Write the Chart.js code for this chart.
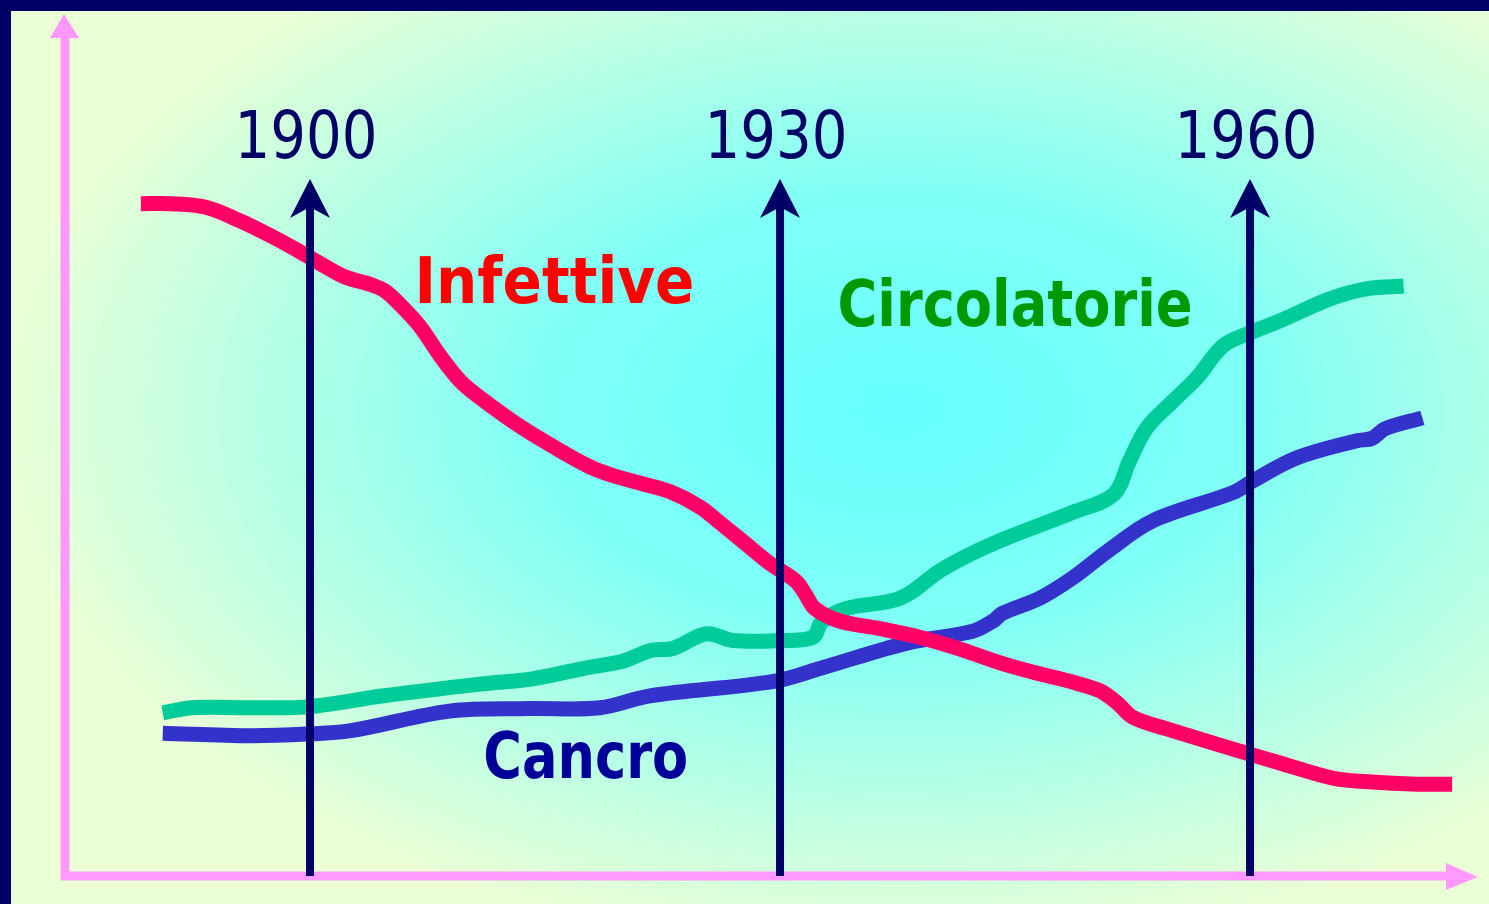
<!DOCTYPE html>
<html>
<head>
<meta charset="utf-8">
<script src="https://cdn.jsdelivr.net/npm/chart.js@4.4.0/dist/chart.umd.min.js"></script>
<style>
    html, body { margin: 0; padding: 0; overflow: hidden; background: #000066; }
    #wrap { position: relative; width: 1489px; height: 904px; }
</style>
</head>
<body>
<div id="wrap"><canvas id="chart"></canvas></div>
<script>
// Mortality trends (arbitrary units) by year
const infettiveYears = [1889.2, 1891.1, 1893.3, 1895.5, 1897.5, 1899.4, 1900.6, 1902.2, 1904.0, 1904.8, 1905.7, 1907.0, 1908.3, 1909.6, 1910.9, 1913.4, 1916.0, 1917.9, 1919.2, 1921.1, 1923.0, 1924.9, 1926.2, 1927.8, 1929.4, 1931.0, 1931.6, 1932.2, 1933.8, 1936.4, 1938.9, 1941.5, 1944.0, 1946.3, 1948.5, 1950.4, 1951.5, 1952.5, 1954.7, 1958.6, 1961.9, 1965.3, 1967.5, 1970.7, 1972.9];
const infettiveValues = [79.1, 79.1, 78.7, 77.1, 75.3, 73.4, 72.1, 70.5, 69.5, 68.8, 67.3, 64.7, 61.2, 58.2, 56.2, 52.9, 50.0, 48.1, 47.2, 46.2, 45.2, 43.4, 41.5, 39.1, 36.7, 34.7, 33.2, 31.5, 30.0, 29.1, 28.1, 26.7, 25.1, 23.9, 22.9, 21.8, 20.4, 18.7, 17.3, 15.1, 13.3, 11.5, 11.1, 10.8, 10.8];

const circolatorieYears = [1890.6, 1892.5, 1896.2, 1899.8, 1904.7, 1911.0, 1914.2, 1917.4, 1920.0, 1921.7, 1923.2, 1925.3, 1927.0, 1930.0, 1932.1, 1932.7, 1934.3, 1937.7, 1940.2, 1942.3, 1944.5, 1948.7, 1951.3, 1952.3, 1953.4, 1955.1, 1956.6, 1958.3, 1960.0, 1961.9, 1965.1, 1967.5, 1969.8];
const circolatorieValues = [19.2, 19.8, 19.8, 19.9, 21.2, 22.6, 23.2, 24.4, 25.3, 26.5, 26.8, 28.5, 27.7, 27.7, 28.1, 30.0, 31.5, 32.7, 35.9, 38.0, 39.8, 42.8, 44.9, 48.8, 52.7, 55.9, 58.6, 62.4, 63.9, 65.3, 67.9, 69.1, 69.4];

const cancroYears = [1890.6, 1896.2, 1899.8, 1902.6, 1908.9, 1914.0, 1918.5, 1921.7, 1929.6, 1932.7, 1938.1, 1942.3, 1943.6, 1944.2, 1946.6, 1948.7, 1950.9, 1953.8, 1958.9, 1960.2, 1963.0, 1966.8, 1967.8, 1968.6, 1971.0];
const cancroValues = [16.8, 16.5, 16.7, 17.1, 19.4, 19.7, 19.8, 21.2, 22.9, 24.5, 27.4, 28.8, 30.0, 30.9, 32.7, 35.1, 38.2, 41.8, 45.1, 46.5, 49.2, 51.2, 51.5, 52.6, 53.9];

// Marker arrows and their year labels
const markerYears = [1900, 1930, 1960];
const markerLabels = ['1900', '1930', '1960'];
const markerTop = 82;
const markerLabelValue = 84.5;

// Series names written on the plot
const seriesNames = ['Infettive', 'Circolatorie', 'Cancro'];
const seriesNameYears = [1915.6, 1945.0, 1917.6];
const seriesNameValues = [67.4, 64.7, 11.5];
const seriesNameColors = ['#ff0000', '#009900', '#000099'];
const seriesNameWidths = [280, 355, 205];

const FONT = '"Comic Sans MS", "DejaVu Sans", sans-serif';
const NAVY = '#000066';
const PINK = '#ff99ff';

function toPoints(xs, ys) {
    return xs.map((x, i) => ({ x: x, y: ys[i] }));
}

const backgroundPlugin = {
    id: 'background',
    beforeDraw(chart) {
        const ctx = chart.ctx;
        const w = chart.width, h = chart.height;
        ctx.save();
        // navy frame (top and left)
        ctx.fillStyle = NAVY;
        ctx.fillRect(0, 0, w, h);
        // soft elliptical gradient
        ctx.save();
        ctx.beginPath();
        ctx.rect(11, 11, w - 11, h - 11);
        ctx.clip();
        ctx.translate(900, 410);
        ctx.scale(1, 0.6);
        const g = ctx.createRadialGradient(0, 0, 0, 0, 0, 900);
        g.addColorStop(0, '#66ffff');
        g.addColorStop(0.4, '#80fff6');
        g.addColorStop(0.7, '#b4ffe6');
        g.addColorStop(1, '#eaffd6');
        ctx.fillStyle = g;
        ctx.fillRect(-1000, -1000, 2000, 2000);
        ctx.restore();
        ctx.restore();
    }
};

const axesPlugin = {
    id: 'pinkAxes',
    beforeDatasetsDraw(chart) {
        const ctx = chart.ctx;
        const a = chart.chartArea;
        ctx.save();
        ctx.strokeStyle = PINK;
        ctx.fillStyle = PINK;
        ctx.lineWidth = 9;
        ctx.lineCap = 'butt';
        ctx.beginPath();
        ctx.moveTo(a.left, a.top + 12);
        ctx.lineTo(a.left, a.bottom);
        ctx.lineTo(a.right - 22, a.bottom);
        ctx.stroke();
        // y arrow head
        ctx.beginPath();
        ctx.moveTo(a.left - 1, a.top - 12);
        ctx.lineTo(a.left - 15, a.top + 12);
        ctx.lineTo(a.left + 14, a.top + 12);
        ctx.closePath();
        ctx.fill();
        // x arrow head
        ctx.beginPath();
        ctx.moveTo(a.right + 8, a.bottom + 1);
        ctx.lineTo(a.right - 24, a.bottom - 13);
        ctx.lineTo(a.right - 24, a.bottom + 14);
        ctx.closePath();
        ctx.fill();
        ctx.restore();
    }
};

const markersPlugin = {
    id: 'markers',
    afterDatasetsDraw(chart) {
        const ctx = chart.ctx;
        const xs = chart.scales.x, ys = chart.scales.y;
        const a = chart.chartArea;
        ctx.save();
        markerYears.forEach((yr, i) => {
            const px = xs.getPixelForValue(yr);
            const top = ys.getPixelForValue(markerTop);
            ctx.strokeStyle = NAVY;
            ctx.fillStyle = NAVY;
            ctx.lineWidth = 8;
            ctx.beginPath();
            ctx.moveTo(px, a.bottom);
            ctx.lineTo(px, top + 20);
            ctx.stroke();
            ctx.beginPath();
            ctx.moveTo(px, top);
            ctx.lineTo(px + 20, top + 39);
            ctx.lineTo(px, top + 28);
            ctx.lineTo(px - 20, top + 39);
            ctx.closePath();
            ctx.fill();

            ctx.font = '66px ' + FONT;
            ctx.textAlign = 'center';
            ctx.textBaseline = 'alphabetic';
            ctx.fillText(markerLabels[i], px - 4, ys.getPixelForValue(markerLabelValue), 143);
        });

        seriesNames.forEach((name, i) => {
            ctx.font = 'bold 64px ' + FONT;
            ctx.fillStyle = seriesNameColors[i];
            ctx.textAlign = 'center';
            ctx.textBaseline = 'alphabetic';
            ctx.fillText(name, xs.getPixelForValue(seriesNameYears[i]),
                ys.getPixelForValue(seriesNameValues[i]), seriesNameWidths[i]);
        });
        ctx.restore();
    }
};

const lineStyle = {
    borderWidth: 15,
    pointRadius: 0,
    tension: 0.35,
    borderCapStyle: 'butt',
    borderJoinStyle: 'round',
    fill: false
};

new Chart(document.getElementById('chart'), {
    type: 'line',
    data: {
        datasets: [
            Object.assign({ label: 'Infettive', data: toPoints(infettiveYears, infettiveValues), borderColor: '#ff0066' }, lineStyle),
            Object.assign({ label: 'Circolatorie', data: toPoints(circolatorieYears, circolatorieValues), borderColor: '#00cc99' }, lineStyle),
            Object.assign({ label: 'Cancro', data: toPoints(cancroYears, cancroValues), borderColor: '#3333cc' }, lineStyle)
        ]
    },
    options: {
        responsive: true,
        maintainAspectRatio: false,
        animation: false,
        events: [],
        layout: { padding: { left: 65, right: 19, top: 26, bottom: 28 } },
        plugins: { legend: { display: false }, tooltip: { enabled: false } },
        scales: {
            x: { type: 'linear', min: 1884.36, max: 1974.04, display: false },
            y: { min: 0, max: 100, display: false }
        }
    },
    plugins: [backgroundPlugin, axesPlugin, markersPlugin]
});
</script>
</body>
</html>
